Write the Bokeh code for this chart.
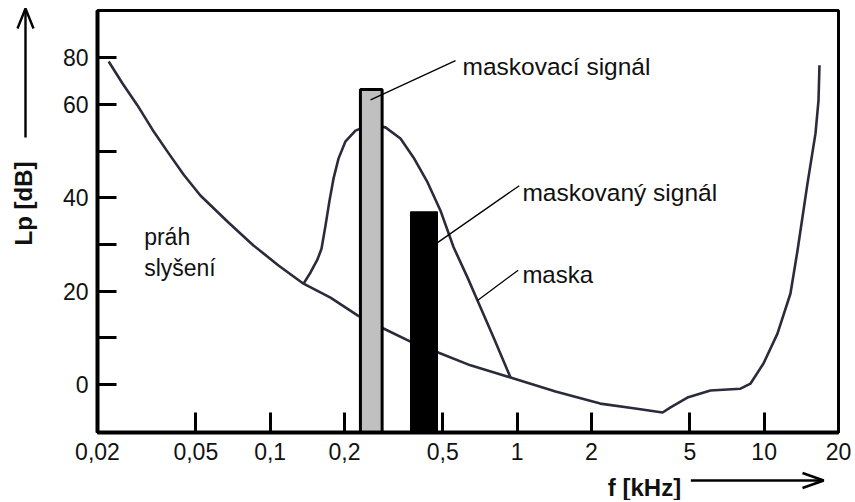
import numpy as np
from bokeh.plotting import figure
from bokeh.layouts import row, column
from bokeh.models import Range1d, FixedTicker, Label
from bokeh.core.properties import value
from bokeh.embed import file_html
from bokeh.resources import INLINE

# ---------------- data ----------------
# hearing threshold ("práh slyšení"): f in kHz, Lp in dB
thr_f = [0.0222, 0.02526, 0.02904, 0.0334, 0.0384, 0.0446, 0.0522, 0.0678, 0.0856,
         0.1081, 0.1365, 0.1755, 0.2258, 0.2876, 0.370, 0.476, 0.647, 0.940, 1.43,
         2.17, 2.96, 3.88, 4.18, 4.89, 6.06, 8.02, 8.81, 9.94, 11.32, 12.78, 13.65,
         14.98, 16.14, 16.6, 16.75]
thr_db = [78.4, 69.0, 59.8, 54.6, 49.9, 45.0, 40.5, 34.7, 29.8,
          25.5, 21.6, 18.6, 14.8, 12.0, 9.2, 6.9, 4.1, 1.5, -1.5,
          -4.1, -5.1, -6.0, -4.9, -2.8, -1.3, -0.9, 0.2, 4.5, 10.9, 19.5, 28.7,
          43.1, 53.8, 61.8, 76.8]

# masking curve ("maska")
mask_f = [0.1365, 0.1457, 0.1555, 0.1614, 0.1676, 0.1739, 0.1805, 0.1891, 0.2019,
          0.2216, 0.255, 0.293, 0.337, 0.381, 0.434, 0.489, 0.553, 0.630, 0.691,
          0.802, 0.940]
mask_db = [21.6, 24.0, 26.8, 29.1, 34.1, 39.4, 44.1, 48.4, 52.1,
           54.4, 55.7, 55.1, 52.7, 48.6, 43.3, 37.3, 29.4, 22.9, 18.0,
           10.1, 1.5]

# masking signal (grey bar) and masked signal (black bar)
masker_f = [0.232, 0.284]
masker_db = 66.4
maskee_f = [0.370, 0.476]
maskee_db = 37.0

x_ticks = [0.02, 0.05, 0.1, 0.2, 0.5, 1, 2, 5, 10, 20]
x_tick_labels = ["0,02", "0,05", "0,1", "0,2", "0,5", "1", "2", "5", "10", "20"]
y_ticks_db = [0, 10, 20, 30, 40, 50, 60, 80]
y_tick_labels = ["0", "", "20", "", "40", "", "60", "80"]


# the reference's level axis is compressed above 60 dB (60 -> 80 takes one tick step)
def axis_pos(db):
    db = np.asarray(db, dtype=float)
    return np.where(db > 60, 60 + (db - 60) / 2.0, db)


FONT = "Liberation Sans"
CURVE = "#2b2b3b"
TXT = "#111111"

# ---------------- main chart ----------------
p = figure(width=803, height=468, x_axis_type="log",
           x_range=Range1d(0.02, 20), y_range=Range1d(-10.29, 80.14),
           output_backend="svg", toolbar_location=None,
           min_border_left=47, min_border_right=15, min_border_top=10, min_border_bottom=36)

p.background_fill_color = "white"
p.border_fill_color = "white"
p.outline_line_color = "black"
p.outline_line_width = 3
p.xgrid.visible = False
p.ygrid.visible = False

y_pos_ticks = [float(v) for v in axis_pos(y_ticks_db)]
p.yaxis.ticker = FixedTicker(ticks=y_pos_ticks)
p.yaxis.major_label_overrides = {t: l for t, l in zip(y_pos_ticks, y_tick_labels)}
p.xaxis.ticker = FixedTicker(ticks=x_ticks)
p.xaxis.major_label_overrides = {t: l for t, l in zip(x_ticks, x_tick_labels)}

for ax in (p.xaxis[0], p.yaxis[0]):
    ax.axis_line_width = 4
    ax.axis_line_color = "black"
    ax.major_tick_line_width = 3
    ax.major_tick_line_color = "black"
    ax.major_tick_out = 0
    ax.minor_tick_line_color = None
    ax.major_label_text_font = FONT
    ax.major_label_text_font_size = "23px"
    ax.major_label_text_color = TXT
p.xaxis.major_tick_in = 20
p.yaxis.major_tick_in = 19
p.xaxis.major_label_standoff = 10
p.yaxis.major_label_standoff = 9

# curves
p.line(thr_f, axis_pos(thr_db), line_color=CURVE, line_width=2.6, line_join="round")
p.line(mask_f, axis_pos(mask_db), line_color=CURVE, line_width=2.6, line_join="round")

# bars
p.quad(left=[masker_f[0]], right=[masker_f[1]], bottom=[-30], top=[float(axis_pos(masker_db))],
       fill_color="#c0c0c0", line_color="black", line_width=3)
p.quad(left=[maskee_f[0]], right=[maskee_f[1]], bottom=[-30], top=[float(axis_pos(maskee_db))],
       fill_color="black", line_color="black", line_width=1)

# leader lines (annotation decoration)
p.line([0.255, 0.563], [61.0, 69.4], line_color="black", line_width=1.3)
p.line([0.476, 1.02], [30.4, 42.6], line_color="black", line_width=1.3)
p.line([0.691, 1.01], [18.0, 24.5], line_color="black", line_width=1.3)


def add_label(x, y, text, size):
    p.add_layout(Label(x=x, y=y, text=text, text_font=FONT, text_font_size=size,
                       text_align="left", text_baseline="alphabetic", text_color=TXT))


add_label(0.601, 68.2, "maskovací signál", "24.5px")
add_label(1.05, 41.1, "maskovaný signál", "24.5px")
add_label(1.05, 23.6, "maska", "24px")
add_label(0.0309, 31.7, "práh", "23px")
add_label(0.0309, 24.9, "slyšení", "23px")


# ---------------- side strips for the axis titles with arrows ----------------
def strip(w, h, x0):
    s = figure(width=w, height=h, x_range=Range1d(x0, x0 + w), y_range=Range1d(0, h),
               x_axis_location=None, y_axis_location=None, output_backend="svg",
               toolbar_location=None, min_border=0)
    s.outline_line_color = None
    s.grid.visible = False
    s.background_fill_color = "white"
    s.border_fill_color = "white"
    return s


# left strip (page y measured from top: y = 500 - page_y)
L = strip(50, 500, 0)
L.text(x=[23], y=[500 - 203], text=["Lp [dB]"], angle=np.pi / 2, text_font=value(FONT),
       text_font_style="bold", text_font_size="24px", text_align="center",
       text_baseline="middle", text_color=TXT)
L.line([25, 25], [500 - 137, 500 - 9], line_color="black", line_width=2.4)
L.line([17, 25, 33], [500 - 28, 500 - 8, 500 - 28], line_color="black", line_width=2.4)

# bottom strip (spans page y 468..500)
B = strip(803, 32, 50)
B.text(x=[603], y=[500 - 487], text=["f [kHz]"], text_font=value(FONT),
       text_font_style="bold", text_font_size="24px", text_align="left",
       text_baseline="alphabetic", text_color=TXT)
B.line([693, 835], [500 - 480, 500 - 480], line_color="black", line_width=2.4)
B.line([814, 837, 814], [500 - 472.5, 500 - 480, 500 - 487.5], line_color="black", line_width=2.4)
B.y_range = Range1d(0, 32)

layout = row(L, column(p, B))

open("out.html", "w").write(file_html(layout, INLINE))
